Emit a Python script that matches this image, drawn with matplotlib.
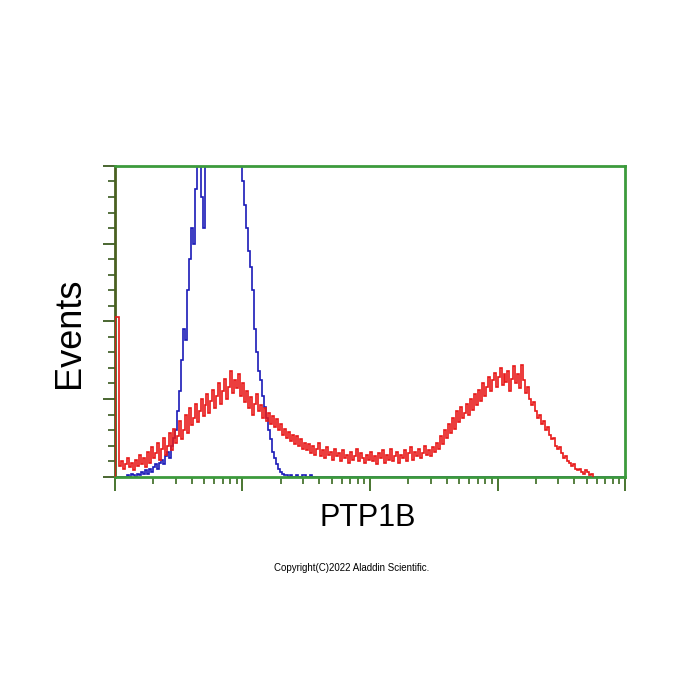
import numpy as np
import matplotlib.pyplot as plt
from matplotlib.ticker import LogLocator, NullFormatter, MultipleLocator

# histogramme en echelle log, 256 canaux sur 4 decades
n_canaux = 256

rouge = [103, 103,
         7, 10, 5, 8, 12, 6, 9, 4, 11, 7, 14, 8, 12, 6,
         16, 9, 19, 12, 15, 22, 11, 18, 25, 14, 20, 28, 17, 31, 22, 26,
         36, 24, 30, 40, 28, 44, 33, 38, 47, 35, 42, 50, 39, 46, 53, 41,
         49, 56, 44, 52, 60, 47, 55, 63, 50, 58, 68, 54, 62, 57, 66, 52,
         60, 48, 55, 44, 51, 40, 47, 53, 42, 46, 38, 44, 36, 41, 34, 39,
         32, 37, 30, 34, 27, 31, 25, 29, 23, 27, 21, 26, 20, 24, 18, 22,
         17, 21, 15, 20, 14, 18, 22, 13, 17, 12, 19, 14, 16, 11, 18, 13,
         15, 10, 17, 12, 14, 9, 16, 11, 13, 18, 10, 15, 12, 9, 14, 11,
         16, 10, 13, 8, 15, 12, 17, 9, 14, 11, 18, 10, 13, 16, 9, 14,
         12, 17, 10, 15, 19, 11, 16, 13, 18, 12, 15, 20, 14, 17, 13, 19,
         16, 22, 18, 26, 21, 30, 25, 34, 28, 38, 31, 42, 35, 45, 38, 41,
         47, 40, 50, 43, 53, 46, 56, 49, 60, 52, 58, 64, 55, 62, 67, 58,
         64, 70, 59, 66, 61, 68, 55, 63, 71, 60, 66, 57, 72, 62, 54, 58,
         50, 46, 48, 42, 38, 40, 34, 36, 30, 32, 27, 24, 25, 20, 18, 19,
         15, 12, 13, 10, 9, 7, 8, 5, 4, 5, 3, 2, 4, 3, 1, 2]

bleu = [0, 0, 0, 0, 0, 0,
        1, 0, 2, 1, 0, 2,
        1, 3, 2, 4, 2, 5,
        3, 6, 8, 5, 9, 11,
        8, 13, 16, 12, 20, 25,
        30, 42, 55, 75,
        95, 88, 120, 140,
        160, 150, 185, 200,
        215, 180, 160, 205,
        230, 240, 220, 250,
        260, 275, 290, 280, 300, 285, 295, 270, 280, 260, 250, 240, 225, 210,
        190, 175, 160, 145,
        135, 120, 95, 80,
        68, 62, 52, 45,
        38, 30, 24, 16,
        12, 8, 5, 3,
        2, 1, 1, 0, 1, 0,
        0, 1, 0, 0, 1, 1, 0, 0, 1, 0]
bleu += [0] * (n_canaux - len(bleu))

bords = np.logspace(0, 4, n_canaux + 1)

fig = plt.figure(figsize=(7, 7), dpi=100)
ax = fig.add_axes([0.164, 0.319, 0.729, 0.444])

ax.stairs(bleu, bords, color='#1a1ab8', linewidth=1.2)
# le rouge s'arrete la ou le signal s'eteint, au-dessus des axes pour voir le pic a gauche
ax.stairs(rouge, bords[:len(rouge) + 1], color='#e81818', linewidth=1.2, zorder=3)

ax.set_xscale('log')
ax.set_xlim(1, 1e4)
ax.set_ylim(0, 200)

ax.xaxis.set_major_locator(LogLocator(base=10, numticks=10))
ax.xaxis.set_minor_locator(LogLocator(base=10, subs=np.arange(2, 10), numticks=10))
ax.xaxis.set_major_formatter(NullFormatter())
ax.xaxis.set_minor_formatter(NullFormatter())
ax.yaxis.set_major_locator(MultipleLocator(50))
ax.yaxis.set_minor_locator(MultipleLocator(10))
ax.yaxis.set_major_formatter(NullFormatter())

ax.tick_params(axis='x', which='major', direction='out', length=10, width=1.3, color='#3a6a20')
ax.tick_params(axis='x', which='minor', direction='out', length=5, width=1.2, color='#3a6a20')
ax.tick_params(axis='y', which='major', direction='out', length=9, width=1.3, color='#3a5a20')
ax.tick_params(axis='y', which='minor', direction='out', length=5, width=1.2, color='#3a5a20')

for cote in ['top', 'right', 'bottom']:
    ax.spines[cote].set_color('#3c9a3c')
    ax.spines[cote].set_linewidth(2)
ax.spines['left'].set_color('#4a6020')
ax.spines['left'].set_linewidth(2)

fig.text(0.1, 0.524, "Events", rotation=90, ha='center', va='center',
         fontsize=26, family='Liberation Sans')
fig.text(0.525, 0.26, "PTP1B", ha='center', va='center',
         fontsize=22, family='Liberation Sans')
fig.text(0.503, 0.189, "Copyright(C)2022 Aladdin Scientific.", ha='center', va='center',
         fontsize=7, family='Liberation Sans')

fig.savefig('out.png', dpi=100, facecolor='white')
